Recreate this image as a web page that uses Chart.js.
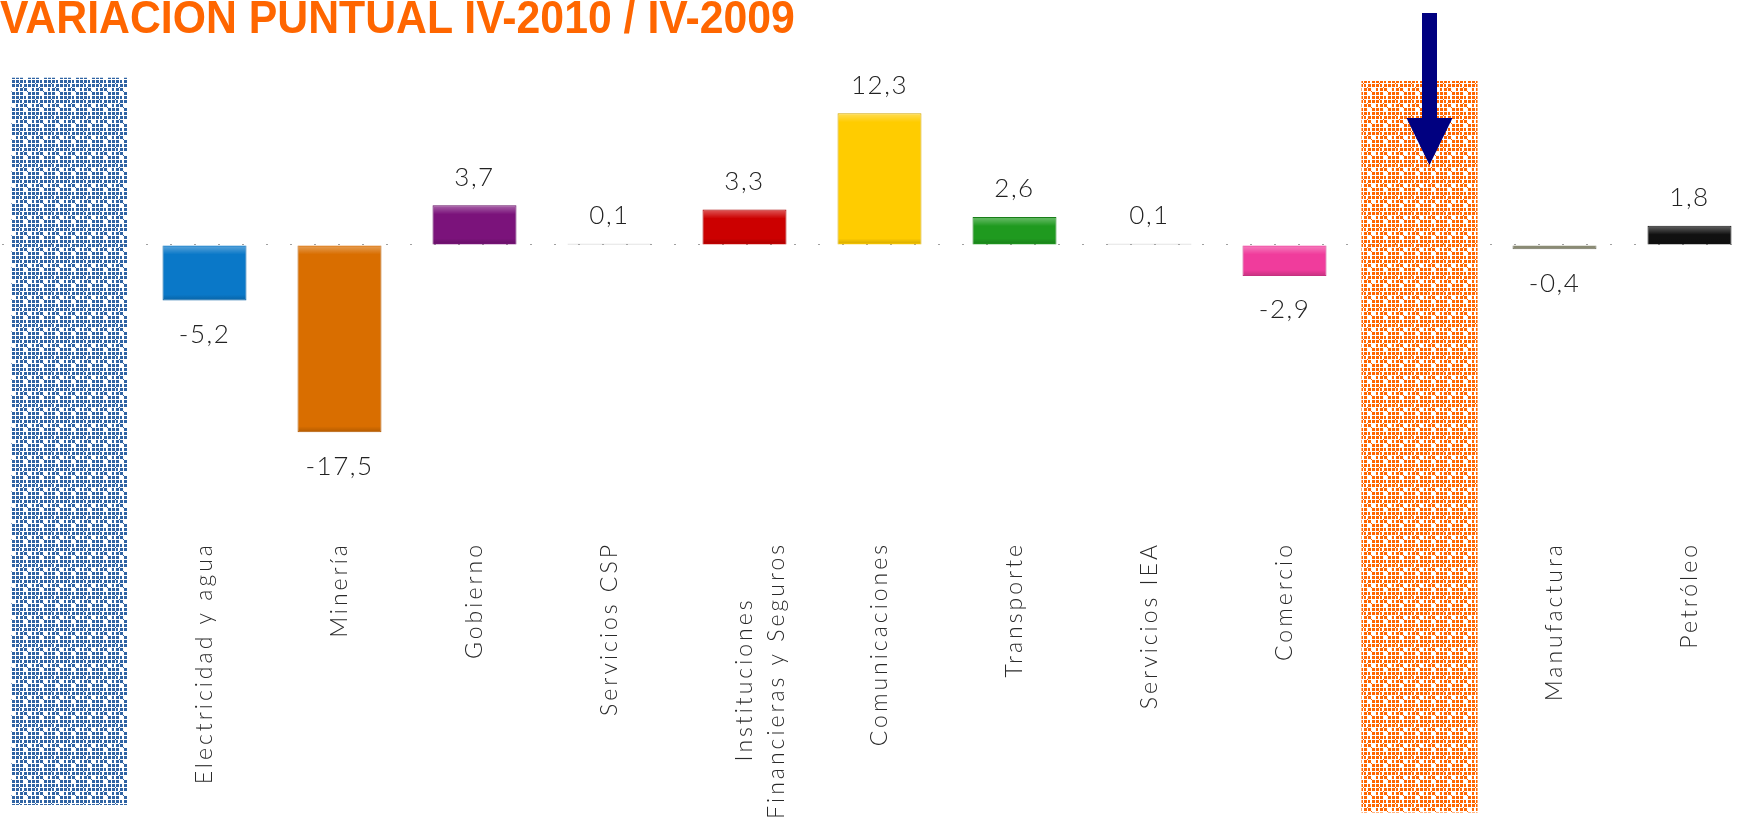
<!DOCTYPE html>
<html>
<head>
<meta charset="utf-8">
<script src="https://cdn.jsdelivr.net/npm/chart.js@4.4.1/dist/chart.umd.min.js"></script>
<style>
  html, body { margin: 0; padding: 0; background: #ffffff; overflow: hidden; width: 1740px; height: 828px; }
  #wrap { position: absolute; left: 0; top: 0; width: 1760px; height: 828px; }
  #title { position: absolute; left: 0; top: -6px; margin: 0; font-family: "Liberation Sans", Arial, sans-serif; font-weight: bold;
           font-size: 46px; line-height: 1; color: #FF6600; white-space: nowrap; transform: scaleX(0.93); transform-origin: 0 0; z-index: 2; }
</style>
</head>
<body>
<div id="title">VARIACION PUNTUAL IV-2010 / IV-2009</div>
<div id="wrap"><canvas id="c"></canvas></div>
<script>
// ---- data ----
const categories = ['', 'Electricidad y agua', 'Minería', 'Gobierno', 'Servicios CSP',
  ['Instituciones      ', 'Financieras y Seguros'], 'Comunicaciones', 'Transporte', 'Servicios IEA',
  'Comercio', '', 'Manufactura', 'Petróleo'];
const variation = [null, -5.2, -17.5, 3.7, 0.1, 3.3, 12.3, 2.6, 0.1, -2.9, null, -0.4, 1.8];
const barColors = ['#ffffff', '#0A78C8', '#D96E00', '#7B137B', '#B0B0B0', '#CC0000', '#FFCC00',
  '#1F9A1F', '#B0B0B0', '#F03C9C', '#ffffff', '#8A8B74', '#111111'];
const highlightBands = [[-52.3, 15.6], null, null, null, null, null, null, null, null, null, [-53.0, 15.3], null, null];
const bandColors = ['#2F63A3', null, null, null, null, null, null, null, null, null, '#FF6600', null, null];
const yMin = -27, yMax = 14;

function makePattern(color) {
  const t = document.createElement('canvas');
  t.width = 16; t.height = 16;
  const g = t.getContext('2d');
  g.fillStyle = color;
  const map = [
    [1, 1, 2, 1],
    [1, 2, 1, 1],
    [2, 1, 1, 0],
    [1, 1, 0, 1]
  ];
  for (let r = 0; r < 4; r++) for (let c = 0; c < 4; c++) {
    if (map[r][c] === 1) g.fillRect(c * 4, r * 4, 3, 3);
    else if (map[r][c] === 2) g.fillRect(c * 4, r * 4, 2, 3);
  }
  g.fillRect(3, 3, 1, 1); g.fillRect(11, 11, 1, 1); g.fillRect(7, 7, 1, 1);
  return document.getElementById('c').getContext('2d').createPattern(t, 'repeat');
}
const bandFills = bandColors.map(c => c ? makePattern(c) : 'rgba(0,0,0,0)');

function darker(hex, f) {
  const n = parseInt(hex.slice(1), 16);
  const r = Math.round(((n >> 16) & 255) * f), g = Math.round(((n >> 8) & 255) * f), b = Math.round((n & 255) * f);
  return 'rgb(' + r + ',' + g + ',' + b + ')';
}

const spacing = {
  id: 'spacing',
  beforeDraw(chart) { chart.ctx.letterSpacing = '3px'; },
  afterDraw(chart) { chart.ctx.letterSpacing = '0px'; }
};

const bevel = {
  id: 'bevel',
  afterDatasetsDraw(chart) {
    const ctx = chart.ctx;
    const meta = chart.getDatasetMeta(1);
    ctx.save();
    meta.data.forEach((el, i) => {
      const v = variation[i];
      if (v === null || v === undefined) return;
      const left = el.x - el.width / 2, top = Math.min(el.y, el.base), h = Math.abs(el.base - el.y);
      if (h < 6) return;
      let g = ctx.createLinearGradient(0, top, 0, top + 9);
      g.addColorStop(0, 'rgba(255,255,255,0.35)');
      g.addColorStop(1, 'rgba(255,255,255,0)');
      ctx.fillStyle = g;
      ctx.fillRect(left + 1, top + 1, el.width - 2, Math.min(9, h - 2));
      g = ctx.createLinearGradient(0, top + h - 6, 0, top + h);
      g.addColorStop(0, 'rgba(0,0,0,0)');
      g.addColorStop(1, 'rgba(0,0,0,0.18)');
      ctx.fillStyle = g;
      ctx.fillRect(left + 1, top + h - 6, el.width - 2, 5);
    });
    ctx.restore();
  }
};

const valueLabels = {
  id: 'valueLabels',
  afterDatasetsDraw(chart) {
    const ctx = chart.ctx;
    const meta = chart.getDatasetMeta(1);
    ctx.save();
    ctx.letterSpacing = '1.5px';
    ctx.font = '300 26px Lato, "Open Sans", sans-serif';
    ctx.fillStyle = '#222222';
    ctx.textAlign = 'center';
    ctx.textBaseline = 'middle';
    meta.data.forEach((el, i) => {
      const v = variation[i];
      if (v === null || v === undefined) return;
      const txt = v.toFixed(1).replace('.', ',');
      const y = v >= 0 ? el.y - 28 : el.y + 34;
      ctx.fillText(txt, el.x, y);
    });
    ctx.restore();
  }
};

const arrow = {
  id: 'arrow',
  afterDatasetsDraw(chart) {
    const ctx = chart.ctx;
    const cx = chart.scales.x.getPixelForValue(10) + 10;
    ctx.save();
    ctx.fillStyle = '#000080';
    ctx.fillRect(cx - 7.5, 13, 15, 106);
    ctx.beginPath();
    ctx.moveTo(cx - 23, 118);
    ctx.lineTo(cx + 23, 118);
    ctx.lineTo(cx, 165);
    ctx.closePath();
    ctx.fill();
    ctx.restore();
  }
};

new Chart(document.getElementById('c'), {
  type: 'bar',
  data: {
    labels: categories,
    datasets: [
      {
        label: 'bands',
        data: highlightBands,
        backgroundColor: bandFills,
        borderWidth: 0,
        grouped: false,
        categoryPercentage: 1,
        barPercentage: 0.86,
        clip: false,
        order: 2
      },
      {
        label: 'Variación puntual',
        data: variation,
        backgroundColor: barColors,
        borderColor: barColors.map(c => darker(c, 0.82)),
        borderWidth: 1,
        grouped: false,
        categoryPercentage: 1,
        barPercentage: 0.622,
        order: 1
      }
    ]
  },
  options: {
    responsive: true,
    maintainAspectRatio: false,
    animation: false,
    layout: { padding: { left: 2, right: 3, top: 95, bottom: 0 } },
    plugins: { legend: { display: false }, tooltip: { enabled: false }, title: { display: false } },
    scales: {
      x: {
        grid: { display: false },
        border: { display: false },
        afterFit(scale) { scale.height = 294; },
        ticks: {
          autoSkip: false, minRotation: 90, maxRotation: 90, padding: 0,
          color: '#2a2a2a',
          font: { family: 'Lato, "Open Sans", sans-serif', size: 23, weight: 300, lineHeight: 1.4 }
        }
      },
      y: {
        min: yMin, max: yMax,
        afterBuildTicks(scale) { scale.ticks = [{ value: 0 }]; },
        afterFit(scale) { scale.width = 0; },
        ticks: { display: false },
        border: { display: false, dash: [2, 22] },
        grid: { color: '#A0A0A0', lineWidth: 1, drawTicks: false }
      }
    }
  },
  plugins: [spacing, bevel, valueLabels, arrow]
});
</script>
</body>
</html>
